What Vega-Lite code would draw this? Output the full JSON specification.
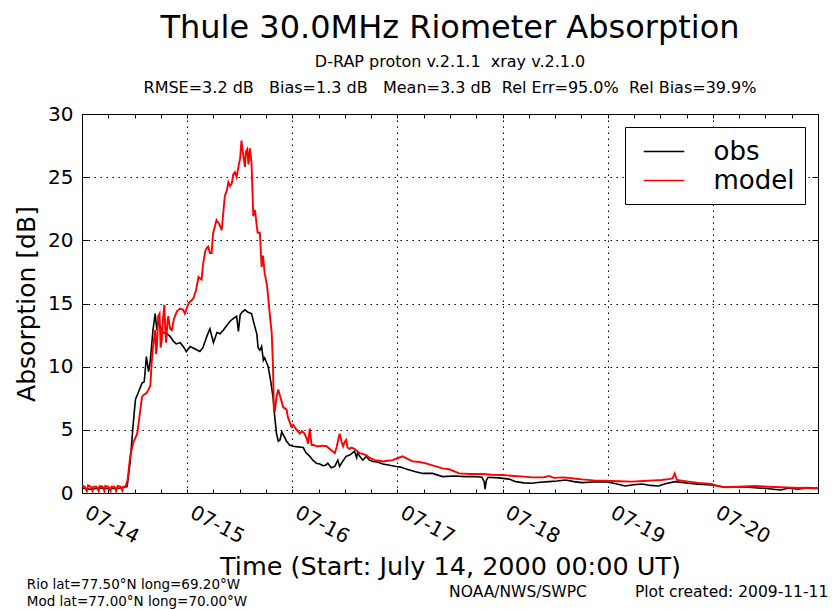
{
  "$schema": "https://vega.github.io/schema/vega-lite/v6.json",
  "width": 736,
  "height": 379,
  "autosize": {"type": "none"},
  "padding": {"left": 82, "top": 114, "right": 17, "bottom": 116},
  "background": "white",
  "title": {
    "text": "Thule 30.0MHz Riometer Absorption",
    "subtitle": ["D-RAP proton v.2.1.1 \u00a0xray v.2.1.0", "RMSE=3.2 dB \u00a0\u00a0Bias=1.3 dB \u00a0\u00a0Mean=3.3 dB \u00a0Rel Err=95.0% \u00a0Rel Bias=39.9%"],
    "anchor": "middle",
    "frame": "group",
    "fontSize": 32,
    "font": "DejaVu Sans",
    "fontWeight": "normal",
    "color": "black",
    "subtitleFont": "DejaVu Sans",
    "subtitleFontSize": 16,
    "subtitleColor": "black",
    "subtitlePadding": 9,
    "subtitleLineHeight": 26,
    "offset": 7
  },
  "datasets": {
    "obs": [
      {"h":0,"v":0.4,"s":"obs"},{"h":1.9,"v":0.3,"s":"obs"},{"h":4.2,"v":0.4,"s":"obs"},{"h":6.5,"v":0.35,"s":"obs"},{"h":8.8,"v":0.4,"s":"obs"},{"h":10.3,"v":0.5,"s":"obs"},{"h":11.0,"v":2.5,"s":"obs"},{"h":11.7,"v":5.5,"s":"obs"},{"h":12.2,"v":7.4,"s":"obs"},{"h":12.9,"v":8.0,"s":"obs"},{"h":13.7,"v":8.7,"s":"obs"},{"h":14.2,"v":8.8,"s":"obs"},{"h":14.7,"v":10.8,"s":"obs"},{"h":15.2,"v":9.6,"s":"obs"},{"h":15.6,"v":10.5,"s":"obs"},{"h":16.2,"v":12.9,"s":"obs"},{"h":16.7,"v":14.2,"s":"obs"},{"h":17.1,"v":12.9,"s":"obs"},{"h":17.4,"v":13.5,"s":"obs"},{"h":17.9,"v":13.2,"s":"obs"},{"h":18.5,"v":12.7,"s":"obs"},{"h":19.4,"v":12.6,"s":"obs"},{"h":20.1,"v":12.4,"s":"obs"},{"h":20.9,"v":12.0,"s":"obs"},{"h":21.5,"v":11.8,"s":"obs"},{"h":22.4,"v":11.9,"s":"obs"},{"h":23.1,"v":11.6,"s":"obs"},{"h":23.8,"v":11.2,"s":"obs"},{"h":24.7,"v":11.6,"s":"obs"},{"h":25.8,"v":11.4,"s":"obs"},{"h":26.9,"v":11.2,"s":"obs"},{"h":27.6,"v":11.5,"s":"obs"},{"h":28.5,"v":12.4,"s":"obs"},{"h":29.2,"v":13.0,"s":"obs"},{"h":30.0,"v":11.9,"s":"obs"},{"h":30.8,"v":12.7,"s":"obs"},{"h":31.5,"v":12.6,"s":"obs"},{"h":32.3,"v":12.9,"s":"obs"},{"h":32.9,"v":13.2,"s":"obs"},{"h":33.8,"v":13.6,"s":"obs"},{"h":34.5,"v":13.8,"s":"obs"},{"h":35.3,"v":14.0,"s":"obs"},{"h":35.7,"v":12.8,"s":"obs"},{"h":36.1,"v":14.1,"s":"obs"},{"h":36.5,"v":14.3,"s":"obs"},{"h":37.2,"v":14.5,"s":"obs"},{"h":37.9,"v":14.3,"s":"obs"},{"h":38.7,"v":14.2,"s":"obs"},{"h":39.2,"v":13.5,"s":"obs"},{"h":39.9,"v":12.6,"s":"obs"},{"h":40.2,"v":11.5,"s":"obs"},{"h":40.6,"v":11.3,"s":"obs"},{"h":41.0,"v":11.6,"s":"obs"},{"h":41.4,"v":10.5,"s":"obs"},{"h":41.7,"v":10.7,"s":"obs"},{"h":42.5,"v":10.0,"s":"obs"},{"h":43.1,"v":8.8,"s":"obs"},{"h":43.6,"v":7.6,"s":"obs"},{"h":44.0,"v":6.0,"s":"obs"},{"h":44.4,"v":4.7,"s":"obs"},{"h":44.8,"v":4.1,"s":"obs"},{"h":45.2,"v":4.2,"s":"obs"},{"h":45.6,"v":4.85,"s":"obs"},{"h":46.1,"v":4.5,"s":"obs"},{"h":46.7,"v":4.1,"s":"obs"},{"h":47.4,"v":3.8,"s":"obs"},{"h":48.2,"v":3.7,"s":"obs"},{"h":49.3,"v":3.65,"s":"obs"},{"h":50.5,"v":3.6,"s":"obs"},{"h":51.1,"v":3.2,"s":"obs"},{"h":52.0,"v":2.9,"s":"obs"},{"h":52.7,"v":2.6,"s":"obs"},{"h":53.5,"v":2.35,"s":"obs"},{"h":54.3,"v":2.3,"s":"obs"},{"h":55.0,"v":2.16,"s":"obs"},{"h":55.6,"v":2.2,"s":"obs"},{"h":56.1,"v":2.36,"s":"obs"},{"h":56.9,"v":2.0,"s":"obs"},{"h":57.7,"v":2.1,"s":"obs"},{"h":58.4,"v":2.6,"s":"obs"},{"h":58.8,"v":2.1,"s":"obs"},{"h":59.2,"v":2.35,"s":"obs"},{"h":59.7,"v":2.6,"s":"obs"},{"h":60.3,"v":2.9,"s":"obs"},{"h":61.1,"v":3.0,"s":"obs"},{"h":62.2,"v":3.3,"s":"obs"},{"h":62.7,"v":2.8,"s":"obs"},{"h":62.9,"v":3.2,"s":"obs"},{"h":63.4,"v":2.9,"s":"obs"},{"h":64.1,"v":2.6,"s":"obs"},{"h":64.9,"v":2.9,"s":"obs"},{"h":65.6,"v":2.6,"s":"obs"},{"h":66.4,"v":2.5,"s":"obs"},{"h":67.4,"v":2.45,"s":"obs"},{"h":68.7,"v":2.3,"s":"obs"},{"h":70.2,"v":2.2,"s":"obs"},{"h":71.7,"v":2.1,"s":"obs"},{"h":72.7,"v":2.05,"s":"obs"},{"h":74.0,"v":1.9,"s":"obs"},{"h":75.9,"v":1.7,"s":"obs"},{"h":77.8,"v":1.55,"s":"obs"},{"h":80.0,"v":1.55,"s":"obs"},{"h":82.3,"v":1.3,"s":"obs"},{"h":85.0,"v":1.35,"s":"obs"},{"h":87.6,"v":1.3,"s":"obs"},{"h":89.5,"v":1.3,"s":"obs"},{"h":91.3,"v":1.25,"s":"obs"},{"h":91.8,"v":0.9,"s":"obs"},{"h":92.0,"v":0.3,"s":"obs"},{"h":92.3,"v":1.0,"s":"obs"},{"h":92.7,"v":1.25,"s":"obs"},{"h":95.2,"v":1.2,"s":"obs"},{"h":97.5,"v":1.1,"s":"obs"},{"h":99.0,"v":0.9,"s":"obs"},{"h":100.9,"v":0.8,"s":"obs"},{"h":102.7,"v":0.77,"s":"obs"},{"h":104.5,"v":0.85,"s":"obs"},{"h":106.6,"v":0.9,"s":"obs"},{"h":108.4,"v":0.95,"s":"obs"},{"h":110.4,"v":1.03,"s":"obs"},{"h":112.3,"v":0.9,"s":"obs"},{"h":114.1,"v":0.82,"s":"obs"},{"h":116.8,"v":0.87,"s":"obs"},{"h":119.5,"v":0.9,"s":"obs"},{"h":121.6,"v":0.75,"s":"obs"},{"h":124.0,"v":0.55,"s":"obs"},{"h":125.9,"v":0.65,"s":"obs"},{"h":127.8,"v":0.71,"s":"obs"},{"h":129.8,"v":0.6,"s":"obs"},{"h":131.6,"v":0.55,"s":"obs"},{"h":133.4,"v":0.75,"s":"obs"},{"h":135.4,"v":0.9,"s":"obs"},{"h":138.4,"v":0.77,"s":"obs"},{"h":140.7,"v":0.7,"s":"obs"},{"h":143.7,"v":0.63,"s":"obs"},{"h":146.8,"v":0.45,"s":"obs"},{"h":149.3,"v":0.5,"s":"obs"},{"h":152.1,"v":0.45,"s":"obs"},{"h":154.3,"v":0.4,"s":"obs"},{"h":155.9,"v":0.37,"s":"obs"},{"h":157.8,"v":0.3,"s":"obs"},{"h":159.6,"v":0.24,"s":"obs"},{"h":161.2,"v":0.4,"s":"obs"},{"h":163.4,"v":0.3,"s":"obs"},{"h":165.3,"v":0.4,"s":"obs"},{"h":167.2,"v":0.37,"s":"obs"},{"h":168,"v":0.4,"s":"obs"}
    ],
    "model": [
      {"h":0,"v":0.6,"s":"model"},{"h":0.6,"v":0.5,"s":"model"},{"h":1.1,"v":0.15,"s":"model"},{"h":1.4,"v":0.6,"s":"model"},{"h":2.0,"v":0.5,"s":"model"},{"h":2.4,"v":0.15,"s":"model"},{"h":2.6,"v":0.5,"s":"model"},{"h":3.3,"v":0.5,"s":"model"},{"h":3.8,"v":0.15,"s":"model"},{"h":4.0,"v":0.55,"s":"model"},{"h":4.7,"v":0.5,"s":"model"},{"h":5.1,"v":0.15,"s":"model"},{"h":5.3,"v":0.55,"s":"model"},{"h":6.0,"v":0.5,"s":"model"},{"h":6.5,"v":0.15,"s":"model"},{"h":6.7,"v":0.5,"s":"model"},{"h":7.4,"v":0.5,"s":"model"},{"h":7.8,"v":0.15,"s":"model"},{"h":8.1,"v":0.55,"s":"model"},{"h":8.8,"v":0.5,"s":"model"},{"h":9.2,"v":0.2,"s":"model"},{"h":9.4,"v":0.5,"s":"model"},{"h":9.9,"v":0.5,"s":"model"},{"h":10.4,"v":1.0,"s":"model"},{"h":11.0,"v":2.9,"s":"model"},{"h":11.7,"v":4.0,"s":"model"},{"h":12.6,"v":4.7,"s":"model"},{"h":13.1,"v":6.0,"s":"model"},{"h":13.7,"v":7.6,"s":"model"},{"h":14.2,"v":7.8,"s":"model"},{"h":14.7,"v":7.9,"s":"model"},{"h":15.2,"v":8.2,"s":"model"},{"h":15.6,"v":8.5,"s":"model"},{"h":15.9,"v":10.3,"s":"model"},{"h":16.2,"v":11.5,"s":"model"},{"h":16.7,"v":12.9,"s":"model"},{"h":16.9,"v":11.0,"s":"model"},{"h":17.1,"v":11.6,"s":"model"},{"h":17.4,"v":14.0,"s":"model"},{"h":17.7,"v":14.2,"s":"model"},{"h":17.95,"v":11.5,"s":"model"},{"h":18.2,"v":12.1,"s":"model"},{"h":18.5,"v":13.8,"s":"model"},{"h":18.8,"v":14.9,"s":"model"},{"h":19.0,"v":13.0,"s":"model"},{"h":19.2,"v":11.9,"s":"model"},{"h":19.5,"v":13.5,"s":"model"},{"h":19.7,"v":14.0,"s":"model"},{"h":20.1,"v":13.0,"s":"model"},{"h":20.5,"v":12.9,"s":"model"},{"h":21.0,"v":13.8,"s":"model"},{"h":21.7,"v":14.4,"s":"model"},{"h":22.4,"v":14.6,"s":"model"},{"h":23.1,"v":14.5,"s":"model"},{"h":23.5,"v":14.2,"s":"model"},{"h":24.3,"v":15.0,"s":"model"},{"h":25.4,"v":15.4,"s":"model"},{"h":26.0,"v":16.0,"s":"model"},{"h":26.6,"v":17.1,"s":"model"},{"h":26.9,"v":17.0,"s":"model"},{"h":27.3,"v":16.9,"s":"model"},{"h":27.6,"v":18.0,"s":"model"},{"h":28.1,"v":19.1,"s":"model"},{"h":28.5,"v":19.4,"s":"model"},{"h":28.8,"v":19.5,"s":"model"},{"h":29.2,"v":19.0,"s":"model"},{"h":29.6,"v":19.0,"s":"model"},{"h":29.9,"v":20.5,"s":"model"},{"h":30.7,"v":21.6,"s":"model"},{"h":31.3,"v":21.3,"s":"model"},{"h":31.9,"v":20.8,"s":"model"},{"h":32.2,"v":22.0,"s":"model"},{"h":32.6,"v":23.5,"s":"model"},{"h":33.1,"v":24.0,"s":"model"},{"h":33.4,"v":24.6,"s":"model"},{"h":33.8,"v":24.3,"s":"model"},{"h":34.2,"v":24.5,"s":"model"},{"h":34.5,"v":25.2,"s":"model"},{"h":34.9,"v":25.4,"s":"model"},{"h":35.3,"v":25.0,"s":"model"},{"h":35.7,"v":25.8,"s":"model"},{"h":36.1,"v":26.5,"s":"model"},{"h":36.4,"v":27.9,"s":"model"},{"h":36.7,"v":27.0,"s":"model"},{"h":37.2,"v":25.8,"s":"model"},{"h":37.4,"v":27.0,"s":"model"},{"h":37.7,"v":27.2,"s":"model"},{"h":38.0,"v":26.0,"s":"model"},{"h":38.3,"v":27.3,"s":"model"},{"h":38.7,"v":26.1,"s":"model"},{"h":39.1,"v":21.9,"s":"model"},{"h":39.5,"v":22.4,"s":"model"},{"h":39.9,"v":21.1,"s":"model"},{"h":40.1,"v":20.6,"s":"model"},{"h":40.6,"v":20.6,"s":"model"},{"h":41.0,"v":17.9,"s":"model"},{"h":41.3,"v":18.8,"s":"model"},{"h":41.7,"v":17.4,"s":"model"},{"h":42.2,"v":16.5,"s":"model"},{"h":42.5,"v":15.5,"s":"model"},{"h":42.9,"v":14.0,"s":"model"},{"h":43.3,"v":12.7,"s":"model"},{"h":43.6,"v":10.0,"s":"model"},{"h":43.8,"v":6.6,"s":"model"},{"h":44.0,"v":6.4,"s":"model"},{"h":44.4,"v":7.6,"s":"model"},{"h":44.8,"v":8.2,"s":"model"},{"h":45.2,"v":7.7,"s":"model"},{"h":45.9,"v":6.8,"s":"model"},{"h":46.7,"v":6.6,"s":"model"},{"h":47.0,"v":6.0,"s":"model"},{"h":47.8,"v":5.25,"s":"model"},{"h":48.2,"v":5.4,"s":"model"},{"h":49.0,"v":5.0,"s":"model"},{"h":49.7,"v":4.7,"s":"model"},{"h":50.2,"v":4.9,"s":"model"},{"h":50.8,"v":4.7,"s":"model"},{"h":51.3,"v":4.3,"s":"model"},{"h":51.6,"v":3.9,"s":"model"},{"h":52.0,"v":5.1,"s":"model"},{"h":52.4,"v":3.8,"s":"model"},{"h":52.9,"v":3.8,"s":"model"},{"h":53.5,"v":3.7,"s":"model"},{"h":54.3,"v":3.7,"s":"model"},{"h":54.9,"v":3.75,"s":"model"},{"h":55.8,"v":3.7,"s":"model"},{"h":56.5,"v":3.5,"s":"model"},{"h":57.7,"v":3.15,"s":"model"},{"h":58.1,"v":3.6,"s":"model"},{"h":58.8,"v":4.7,"s":"model"},{"h":59.3,"v":4.0,"s":"model"},{"h":59.6,"v":3.7,"s":"model"},{"h":59.9,"v":4.0,"s":"model"},{"h":60.3,"v":4.2,"s":"model"},{"h":60.6,"v":3.6,"s":"model"},{"h":61.1,"v":3.5,"s":"model"},{"h":61.5,"v":3.6,"s":"model"},{"h":62.2,"v":3.5,"s":"model"},{"h":63.4,"v":3.15,"s":"model"},{"h":64.9,"v":3.0,"s":"model"},{"h":65.6,"v":2.8,"s":"model"},{"h":66.8,"v":2.6,"s":"model"},{"h":67.9,"v":2.55,"s":"model"},{"h":68.7,"v":2.5,"s":"model"},{"h":69.7,"v":2.55,"s":"model"},{"h":70.9,"v":2.6,"s":"model"},{"h":72.0,"v":2.75,"s":"model"},{"h":73.2,"v":2.9,"s":"model"},{"h":74.3,"v":2.7,"s":"model"},{"h":75.5,"v":2.5,"s":"model"},{"h":77.0,"v":2.45,"s":"model"},{"h":78.5,"v":2.35,"s":"model"},{"h":80.4,"v":2.15,"s":"model"},{"h":82.3,"v":1.95,"s":"model"},{"h":83.8,"v":1.88,"s":"model"},{"h":86.1,"v":1.55,"s":"model"},{"h":88.4,"v":1.5,"s":"model"},{"h":91.4,"v":1.5,"s":"model"},{"h":93.6,"v":1.45,"s":"model"},{"h":96.0,"v":1.42,"s":"model"},{"h":98.6,"v":1.35,"s":"model"},{"h":100.9,"v":1.3,"s":"model"},{"h":102.8,"v":1.24,"s":"model"},{"h":105.4,"v":1.25,"s":"model"},{"h":106.6,"v":1.35,"s":"model"},{"h":107.7,"v":1.2,"s":"model"},{"h":110.0,"v":1.24,"s":"model"},{"h":112.3,"v":1.15,"s":"model"},{"h":114.1,"v":1.08,"s":"model"},{"h":116.8,"v":1.0,"s":"model"},{"h":119.5,"v":0.97,"s":"model"},{"h":122.5,"v":0.93,"s":"model"},{"h":125.5,"v":0.9,"s":"model"},{"h":128.2,"v":0.95,"s":"model"},{"h":130.5,"v":1.0,"s":"model"},{"h":132.3,"v":1.03,"s":"model"},{"h":133.9,"v":1.1,"s":"model"},{"h":134.8,"v":1.16,"s":"model"},{"h":135.3,"v":1.55,"s":"model"},{"h":135.8,"v":1.03,"s":"model"},{"h":138.4,"v":0.9,"s":"model"},{"h":140.7,"v":0.8,"s":"model"},{"h":143.7,"v":0.71,"s":"model"},{"h":145.2,"v":0.55,"s":"model"},{"h":146.8,"v":0.45,"s":"model"},{"h":149.8,"v":0.5,"s":"model"},{"h":153.6,"v":0.55,"s":"model"},{"h":156.6,"v":0.5,"s":"model"},{"h":159.6,"v":0.45,"s":"model"},{"h":163.4,"v":0.4,"s":"model"},{"h":165.7,"v":0.42,"s":"model"},{"h":168,"v":0.37,"s":"model"}
    ]
  },
  "layer": [
    {
      "data": {"name": "obs"},
      "mark": {"type": "line", "strokeWidth": 1.6},
      "encoding": {
        "x": {
          "field": "h", "type": "quantitative",
          "scale": {"domain": [0, 168], "nice": false, "zero": false},
          "axis": {
            "orient": "bottom",
            "values": [0,6,12,18,24,30,36,42,48,54,60,66,72,78,84,90,96,102,108,114,120,126,132,138,144,150,156,162,168],
            "labelExpr": "datum.value % 24 == 0 && datum.value < 168 ? '07-' + (14 + datum.value / 24) : ''",
            "labelAngle": 28,
            "labelAlign": "left",
            "labelBaseline": "top",
            "labelOffset": 8.5,
            "labelPadding": 13,
            "labelFontSize": 20,
            "labelOverlap": false,
            "labelFlush": false,
            "tickSize": -4,
            "grid": true,
            "gridColor": {"condition": {"test": "datum.value % 24 == 0", "value": "black"}, "value": "transparent"},
            "gridDash": [1.5, 4.5],
            "gridWidth": 1,
            "title": "Time (Start: July 14, 2000 00:00 UT)",
            "titleFontSize": 25.5,
            "titlePadding": 8
          }
        },
        "y": {
          "field": "v", "type": "quantitative",
          "scale": {"domain": [0, 30], "nice": false},
          "axis": {
            "orient": "left",
            "values": [0,5,10,15,20,25,30],
            "tickSize": -6,
            "labelPadding": 15,
            "labelFontSize": 20,
            "grid": true,
            "gridColor": "black",
            "gridDash": [1.5, 4.5],
            "gridWidth": 1,
            "title": "Absorption [dB]",
            "titleFontSize": 25,
            "titlePadding": 8
          }
        },
        "color": {
          "field": "s", "type": "nominal",
          "scale": {"domain": ["obs", "model"], "range": ["#000000", "#ff0000"]},
          "legend": {"title": null}
        }
      }
    },
    {
      "data": {"name": "model"},
      "mark": {"type": "line", "strokeWidth": 1.9},
      "encoding": {
        "x": {"field": "h", "type": "quantitative", "axis": null},
        "y": {"field": "v", "type": "quantitative", "axis": null},
        "color": {"field": "s", "type": "nominal"}
      }
    },
    {
      "data": {"name": "obs"},
      "mark": {"type": "point", "opacity": 0},
      "encoding": {
        "x": {
          "field": "h", "type": "quantitative",
          "axis": {"orient": "top", "values": [0,6,12,18,24,30,36,42,48,54,60,66,72,78,84,90,96,102,108,114,120,126,132,138,144,150,156,162,168], "labels": false, "tickSize": -4, "grid": false, "title": null}
        },
        "y": {
          "field": "v", "type": "quantitative",
          "axis": {"orient": "right", "values": [0,5,10,15,20,25,30], "labels": false, "tickSize": -6, "grid": false, "title": null}
        }
      }
    },
    {
      "data": {"values": [{"note": "Rio lat=77.50°N long=69.20°W"}]},
      "mark": {"type": "text", "align": "left", "baseline": "alphabetic", "fontSize": 13.5, "color": "black"},
      "encoding": {
        "x": {"datum": -12.6, "type": "quantitative", "axis": null},
        "y": {"datum": -7.6, "type": "quantitative", "axis": null},
        "text": {"field": "note"}
      }
    },
    {
      "data": {"values": [{"note": "Mod lat=77.00°N long=70.00°W"}]},
      "mark": {"type": "text", "align": "left", "baseline": "alphabetic", "fontSize": 13.5, "color": "black"},
      "encoding": {
        "x": {"datum": -12.6, "type": "quantitative", "axis": null},
        "y": {"datum": -8.94, "type": "quantitative", "axis": null},
        "text": {"field": "note"}
      }
    },
    {
      "data": {"values": [{"note": "NOAA/NWS/SWPC"}]},
      "mark": {"type": "text", "align": "left", "baseline": "alphabetic", "fontSize": 15.5, "color": "black"},
      "encoding": {
        "x": {"datum": 83.8, "type": "quantitative", "axis": null},
        "y": {"datum": -8.23, "type": "quantitative", "axis": null},
        "text": {"field": "note"}
      }
    },
    {
      "data": {"values": [{"note": "Plot created: 2009-11-11"}]},
      "mark": {"type": "text", "align": "left", "baseline": "alphabetic", "fontSize": 15.5, "color": "black"},
      "encoding": {
        "x": {"datum": 126.2, "type": "quantitative", "axis": null},
        "y": {"datum": -8.23, "type": "quantitative", "axis": null},
        "text": {"field": "note"}
      }
    }
  ],
  "resolve": {"axis": {"x": "independent", "y": "independent"}},
  "config": {
    "font": "DejaVu Sans",
    "view": {"stroke": "black", "strokeWidth": 1},
    "axis": {
      "labelFont": "DejaVu Sans",
      "titleFont": "DejaVu Sans",
      "labelColor": "black",
      "titleColor": "black",
      "titleFontWeight": "normal",
      "domainColor": "black",
      "tickColor": "black",
      "tickWidth": 1
    },
    "legend": {
      "orient": "top-right",
      "offset": 13,
      "padding": 10,
      "strokeColor": "black",
      "strokeWidth": 1,
      "fillColor": "white",
      "cornerRadius": 0,
      "symbolType": "M-1.5,0H1.5",
      "symbolSize": 729,
      "symbolStrokeWidth": 1.5,
      "symbolOffset": 14.5,
      "labelOffset": 35,
      "labelFontSize": 26,
      "labelFont": "DejaVu Sans",
      "labelColor": "black",
      "rowPadding": 1
    }
  }
}
